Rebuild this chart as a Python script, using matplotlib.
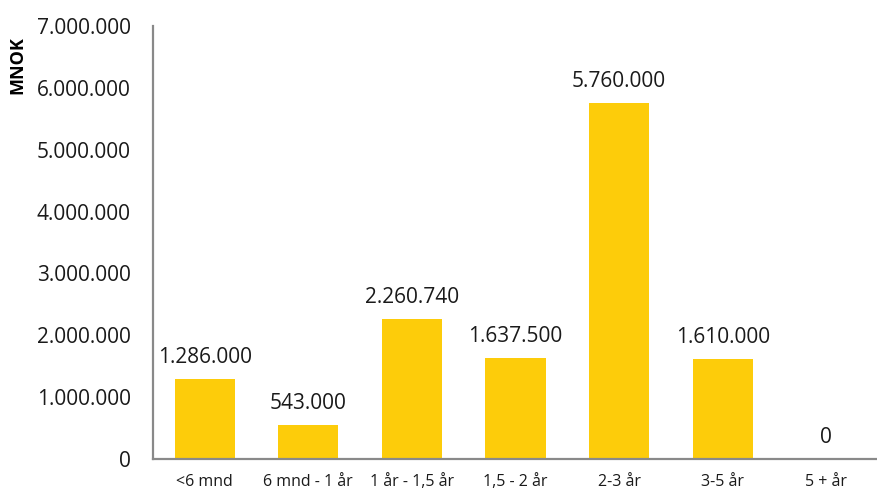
import matplotlib
matplotlib.use("Agg")
import matplotlib.pyplot as plt
from matplotlib.ticker import FuncFormatter, MultipleLocator

# Volum per løpetid
categories = ['<6 mnd', '6 mnd - 1 år', '1 år - 1,5 år', '1,5 - 2 år', '2-3 år', '3-5 år', '5 + år']
values = [1286000, 543000, 2260740, 1637500, 5760000, 1610000, 0]

barColor = '#FDCC0A'
axisColor = '#898989'

plt.rcParams['font.family'] = ['Open Sans', 'DejaVu Sans']


def dotThousands(v, pos=None):
    # Norsk tusenskille med punktum
    return '{:,.0f}'.format(v).replace(',', '.')


fig = plt.figure(figsize=(8.78, 4.91), dpi=100)
ax = fig.add_axes([153 / 878, 1 - 459 / 491, 1 - 153 / 878, (459 - 26) / 491])

x = range(len(categories))
ax.bar(x, values, width=0.58, color=barColor, zorder=1)

for xi, v in zip(x, values):
    ax.annotate(dotThousands(v), xy=(xi, v), xytext=(0, 8), textcoords='offset points',
                ha='center', va='bottom', fontsize=15, color='#1a1a1a')

ax.set_xlim(-0.5, len(categories) - 0.5)
ax.set_ylim(0, 7000000)
ax.yaxis.set_major_locator(MultipleLocator(1000000))
ax.yaxis.set_major_formatter(FuncFormatter(dotThousands))
ax.set_xticks(list(x))
ax.set_xticklabels(categories)

ax.tick_params(axis='y', length=0, pad=16, labelsize=15, labelcolor='#1a1a1a')
ax.tick_params(axis='x', length=0, pad=11, labelsize=11.5, labelcolor='#1a1a1a')

for side in ['top', 'right']:
    ax.spines[side].set_visible(False)
for side in ['left', 'bottom']:
    ax.spines[side].set_color(axisColor)
    ax.spines[side].set_linewidth(1.6)
    ax.spines[side].set_zorder(3)

fig.text(17 / 878, 1 - 65 / 491, 'MNOK', rotation=90, ha='center', va='center',
         fontsize=13, fontweight='bold')

fig.savefig('out.png', dpi=100)
